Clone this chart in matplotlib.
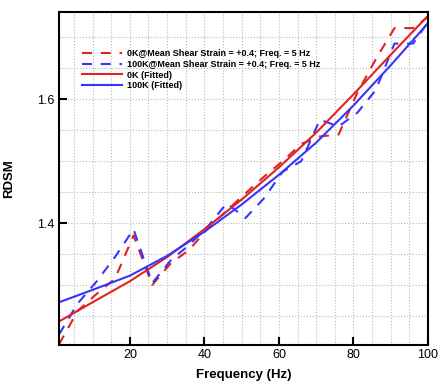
import numpy as np
import matplotlib
matplotlib.use('Agg')
import matplotlib.pyplot as plt
from matplotlib.ticker import MultipleLocator

plt.rcParams['font.family'] = ['Liberation Sans', 'DejaVu Sans']

freq_meas = [1, 6, 11, 16, 21, 26, 31, 36, 41, 46, 51, 56, 61, 66, 71, 76, 81, 86, 91, 96, 100]
rdsm_0k = [1.204, 1.258, 1.285, 1.31, 1.38, 1.30, 1.335, 1.357, 1.392, 1.42, 1.448, 1.475,
           1.50, 1.528, 1.54, 1.543, 1.61, 1.665, 1.715, 1.715, 1.733]
rdsm_100k = [1.22, 1.27, 1.305, 1.345, 1.39, 1.303, 1.34, 1.365, 1.395, 1.432, 1.408, 1.44,
             1.483, 1.50, 1.567, 1.556, 1.578, 1.615, 1.69, 1.69, 1.725]

# fitted curves
freq_fit = [1, 10, 20, 30, 40, 50, 60, 70, 80, 90, 100]
fit_0k = [1.241, 1.272, 1.306, 1.345, 1.390, 1.438, 1.490, 1.546, 1.608, 1.672, 1.735]
fit_100k = [1.272, 1.292, 1.315, 1.347, 1.386, 1.430, 1.478, 1.530, 1.590, 1.655, 1.723]

labels = ['0K@Mean Shear Strain = +0.4; Freq. = 5 Hz',
          '100K@Mean Shear Strain = +0.4; Freq. = 5 Hz',
          '0K (Fitted)', '100K (Fitted)']

red = '#e02222'
blue = '#3535ff'

fig = plt.figure(figsize=(4.39, 3.90), dpi=100)
ax = fig.add_axes([0.1344, 0.1154, 0.8406, 0.8538])

ax.plot(freq_meas, rdsm_0k, color=red, lw=1.5, dashes=(4.8, 4.2), label=labels[0])
ax.plot(freq_meas, rdsm_100k, color=blue, lw=1.5, dashes=(4.8, 4.2), label=labels[1])
ax.plot(freq_fit, fit_0k, color=red, lw=1.5, label=labels[2])
ax.plot(freq_fit, fit_100k, color=blue, lw=1.5, label=labels[3])

ax.set_xlim(1, 100)
ax.set_ylim(1.203, 1.741)

ax.xaxis.set_major_locator(MultipleLocator(20))
ax.xaxis.set_minor_locator(MultipleLocator(5))
ax.yaxis.set_major_locator(MultipleLocator(0.2))
ax.yaxis.set_minor_locator(MultipleLocator(0.05))
ax.yaxis.set_major_formatter(matplotlib.ticker.FormatStrFormatter('%.1f'))

ax.grid(which='both', color='#b8b8b8', ls=':', lw=0.8)
ax.set_axisbelow(True)

ax.tick_params(which='major', direction='in', length=6, width=1.5, labelsize=9, pad=3)
ax.tick_params(which='minor', length=0)
for s in ax.spines.values():
    s.set_linewidth(1.5)

ax.set_xlabel('Frequency (Hz)', fontsize=9.5, fontweight='bold', labelpad=6)
ax.set_ylabel('RDSM', fontsize=9.5, fontweight='bold')
ax.yaxis.set_label_coords(-0.12, 0.5)

ax.legend(loc='upper left', bbox_to_anchor=(0.063, 0.889), frameon=False,
          prop={'size': 6.5, 'weight': 'bold'}, handlelength=4.4, handletextpad=0.6,
          labelspacing=0.2, borderpad=0, borderaxespad=0)

fig.savefig('out.png', dpi=100)
